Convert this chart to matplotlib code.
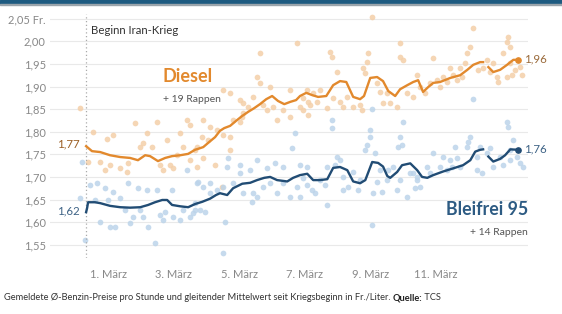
import numpy as np
import matplotlib
matplotlib.use("Agg")
import matplotlib.pyplot as plt
from matplotlib.patches import Rectangle

# days in March (1.0 = 1. März 00:00), prices in Fr./Liter
diesel_day = [0.33, 0.51, 0.76, 1.06, 1.37, 1.67, 1.91, 2.13, 2.28, 2.52, 2.74, 2.95,
              3.20, 3.44, 3.65, 3.90, 4.11, 4.26, 4.41, 4.54, 4.72, 4.90, 5.09, 5.27,
              5.45, 5.63, 5.82, 6.00, 6.18, 6.37, 6.55, 6.73, 6.85, 7.04, 7.22, 7.40,
              7.65, 7.86, 8.07, 8.26, 8.47, 8.68, 8.80, 8.99, 9.20, 9.38, 9.54, 9.75,
              9.90, 10.12, 10.30, 10.45, 10.60, 10.76, 10.91, 11.12, 11.43, 11.73,
              11.95, 12.13, 12.34, 12.43, 12.50, 12.59, 12.74, 12.95, 13.16, 13.35, 13.50]
diesel_avg = [1.768, 1.757, 1.755, 1.748, 1.744, 1.742, 1.737, 1.748, 1.746, 1.735, 1.742, 1.746,
              1.748, 1.751, 1.760, 1.766, 1.779, 1.788, 1.802, 1.808, 1.813, 1.824, 1.835, 1.844,
              1.852, 1.861, 1.872, 1.879, 1.868, 1.861, 1.866, 1.870, 1.879, 1.886, 1.881, 1.877,
              1.879, 1.903, 1.912, 1.910, 1.877, 1.872, 1.879, 1.919, 1.921, 1.912, 1.890, 1.879,
              1.894, 1.903, 1.910, 1.914, 1.888, 1.899, 1.908, 1.910, 1.919, 1.925,
              1.937, 1.948, 1.954, 1.954, np.nan, 1.943, 1.932, 1.937, 1.948, 1.959, 1.959]

benzin_day = [0.33, 0.36, 0.39, 0.60, 0.76, 1.06, 1.37, 1.67, 1.98, 2.22, 2.43, 2.65, 2.80,
              2.95, 3.20, 3.44, 3.65, 3.87, 4.11, 4.29, 4.41, 4.63, 4.81, 5.09, 5.33, 5.54,
              5.76, 5.94, 6.15, 6.46, 6.64, 6.85, 7.07, 7.25, 7.46, 7.68, 7.86, 8.07, 8.29,
              8.47, 8.68, 8.84, 9.05, 9.23, 9.38, 9.51, 9.60, 9.81, 9.96, 10.21, 10.42, 10.57,
              10.73, 10.91, 11.21, 11.52, 11.82, 12.04, 12.19, 12.34, 12.43, 12.50, 12.59,
              12.74, 12.95, 13.10, 13.26, 13.50]
benzin_avg = [1.622, 1.631, 1.644, 1.644, 1.642, 1.636, 1.633, 1.632, 1.633, 1.638, 1.644, 1.649, 1.649,
              1.638, 1.635, 1.633, 1.640, 1.645, 1.652, 1.660, 1.664, 1.660, 1.675, 1.685, 1.687, 1.693,
              1.698, 1.700, 1.693, 1.690, 1.698, 1.704, 1.707, 1.693, 1.693, 1.695, 1.720, 1.722, 1.715,
              1.690, 1.686, 1.693, 1.733, 1.731, 1.723, 1.702, 1.698, 1.711, 1.726, 1.730, 1.715, 1.700,
              1.698, 1.704, 1.712, 1.719, 1.726, 1.737, 1.756, 1.760, 1.761, np.nan, 1.745,
              1.734, 1.740, 1.748, 1.761, 1.760]

# hourly reports (dots)
diesel_pts_day = [0.15, 0.54, 1.15, 0.97, 0.39, 0.76, 0.91, 1.06, 1.37, 1.58, 1.61, 1.82, 1.98, 2.19,
                  2.07, 2.34, 2.49, 2.59, 2.68, 2.80, 2.90, 2.98, 3.10, 3.20, 3.29, 3.41, 3.50, 3.65,
                  3.71, 3.50, 5.63, 5.54, 5.63, 4.51, 4.72, 5.02, 5.12, 5.27, 5.42, 5.94, 6.55, 6.76,
                  5.72, 5.85, 6.03, 6.15, 6.34, 6.55, 6.85, 6.94, 7.10, 3.90, 4.11, 4.32, 4.51, 4.72,
                  4.81, 5.02, 5.12, 4.05, 3.87, 3.71, 4.72, 5.09, 3.90, 4.26, 4.48, 9.05, 7.77, 7.83,
                  7.98, 8.93, 8.90, 8.77, 8.84, 9.90, 9.90, 9.99, 7.07, 6.94, 7.16, 7.25, 7.46, 7.68,
                  7.10, 7.86, 8.07, 8.29, 8.16, 8.47, 8.68, 8.74, 9.29, 9.38, 9.60, 9.81, 10.12, 10.30,
                  9.20, 9.50, 7.37, 12.13, 12.04, 11.94, 13.20, 13.17, 13.26, 13.04, 10.91, 11.88,
                  11.73, 11.43, 11.21, 11.03, 11.52, 11.64, 11.79, 10.42, 10.51, 10.66, 10.82, 11.12,
                  11.34, 12.28, 12.43, 12.65, 12.86, 12.89, 13.17, 13.32, 13.41, 13.56, 13.62, 13.26,
                  12.74, 12.55]
diesel_pts_val = [1.853, 1.799, 1.793, 1.784, 1.733, 1.733, 1.715, 1.726, 1.720, 1.711, 1.731, 1.819, 1.766, 1.797,
                  1.775, 1.766, 1.822, 1.726, 1.715, 1.782, 1.726, 1.720, 1.749, 1.797, 1.766, 1.826, 1.815, 1.760,
                  1.722, 1.737, 1.974, 1.921, 1.908, 1.892, 1.886, 1.870, 1.864, 1.855, 1.877, 1.899, 1.892, 1.996,
                  1.859, 1.848, 1.855, 1.826, 1.848, 1.833, 1.855, 1.848, 1.866, 1.826, 1.810, 1.804, 1.793, 1.788,
                  1.826, 1.822, 1.841, 1.782, 1.788, 1.766, 1.760, 1.833, 1.742, 1.726, 1.678, 2.054, 1.976, 1.965,
                  1.932, 1.974, 1.954, 1.941, 1.930, 1.996, 1.965, 1.959, 1.892, 1.875, 1.859, 1.886, 1.892, 1.853,
                  1.837, 1.875, 1.866, 1.877, 1.855, 1.855, 1.859, 1.848, 1.888, 1.864, 1.864, 1.855, 1.886, 1.877,
                  1.908, 1.886, 1.866, 2.029, 1.987, 1.974, 2.010, 1.999, 1.987, 1.974, 1.963, 1.952,
                  1.941, 1.941, 1.921, 1.914, 1.925, 1.914, 1.921, 1.925, 1.899, 1.886, 1.908, 1.899,
                  1.910, 1.937, 1.941, 1.932, 1.921, 1.910, 1.921, 1.925, 1.937, 1.943, 1.925, 1.952,
                  1.952, 1.959]

benzin_pts_day = [0.21, 0.45, 0.66, 0.60, 0.76, 0.91, 1.00, 1.06, 1.21, 1.15, 1.37, 1.52, 1.61, 1.67,
                  1.76, 1.91, 1.98, 2.07, 2.19, 2.22, 2.43, 2.49, 2.59, 2.68, 2.74, 2.96, 2.98, 3.20,
                  3.29, 3.41, 3.50, 3.65, 3.74, 0.30, 0.15, 4.66, 4.63, 5.02, 5.33, 5.54, 5.85, 6.09,
                  6.34, 6.70, 6.61, 6.85, 7.07, 3.71, 3.90, 4.11, 4.32, 4.51, 4.81, 5.02, 5.12, 5.42,
                  5.54, 5.72, 5.94, 6.15, 6.34, 6.55, 6.76, 3.59, 3.80, 3.96, 3.65, 4.57, 4.51, 5.39,
                  4.11, 9.05, 7.83, 7.83, 8.99, 8.90, 8.84, 8.99, 9.14, 9.90, 9.96, 9.84, 9.99, 7.98,
                  7.92, 8.07, 7.68, 6.94, 7.07, 7.22, 7.31, 7.46, 7.62, 8.16, 8.16, 8.32, 8.62, 8.68,
                  9.20, 9.29, 9.50, 9.35, 9.08, 9.81, 9.90, 10.12, 10.21, 10.42, 7.68, 9.05, 8.47,
                  6.85, 9.53, 9.69, 12.13, 13.17, 13.20, 12.04, 11.97, 11.94, 11.58, 12.34, 10.91,
                  11.21, 11.43, 11.64, 11.73, 12.25, 12.55, 12.65, 12.95, 13.04, 13.26, 13.47, 13.56,
                  13.65, 12.25, 12.40, 12.74, 10.30, 10.42, 10.51, 10.36, 10.72, 10.82, 11.12, 11.34,
                  11.49, 13.26, 13.35]
benzin_pts_val = [1.733, 1.682, 1.687, 1.649, 1.600, 1.676, 1.649, 1.589, 1.589, 1.667, 1.653, 1.627, 1.687, 1.598,
                  1.611, 1.676, 1.627, 1.611, 1.671, 1.589, 1.554, 1.671, 1.616, 1.605, 1.622, 1.671, 1.611, 1.605,
                  1.627, 1.715, 1.611, 1.627, 1.689, 1.560, 1.653, 1.742, 1.722, 1.726, 1.715, 1.737, 1.720, 1.731,
                  1.722, 1.797, 1.764, 1.726, 1.722, 1.687, 1.678, 1.687, 1.671, 1.678, 1.687, 1.709, 1.664, 1.664,
                  1.656, 1.678, 1.687, 1.664, 1.687, 1.656, 1.678, 1.620, 1.627, 1.622, 1.642, 1.600, 1.532, 1.645,
                  1.664, 1.850, 1.826, 1.808, 1.804, 1.771, 1.760, 1.788, 1.753, 1.788, 1.771, 1.766, 1.822, 1.744,
                  1.726, 1.737, 1.722, 1.698, 1.682, 1.671, 1.664, 1.693, 1.682, 1.700, 1.671, 1.678, 1.671, 1.693,
                  1.689, 1.715, 1.693, 1.667, 1.664, 1.671, 1.693, 1.656, 1.709, 1.700, 1.638, 1.594, 1.711,
                  1.656, 1.715, 1.722, 1.872, 1.822, 1.810, 1.788, 1.777, 1.766, 1.766, 1.766, 1.753,
                  1.744, 1.737, 1.742, 1.722, 1.744, 1.753, 1.764, 1.744, 1.726, 1.737, 1.744, 1.731,
                  1.722, 1.715, 1.709, 1.722, 1.709, 1.693, 1.678, 1.676, 1.722, 1.709, 1.722, 1.715,
                  1.722, 1.760, 1.782]

war_start = 0.33
tick_days = [1, 3, 5, 7, 9, 11]
tick_labels = ["1. März", "3. März", "5. März", "7. März", "9. März", "11. März"]
y_ticks = [1.55, 1.60, 1.65, 1.70, 1.75, 1.80, 1.85, 1.90, 1.95, 2.00, 2.05]

ORANGE = "#e2892d"
ORANGE_LIGHT = "#f4cfa8"
BLUE = "#214c74"
BLUE_LIGHT = "#bcd4ea"
GREY = "#888888"

plt.rcParams["font.family"] = ["Lato", "DejaVu Sans"]

fig = plt.figure(figsize=(5.62, 3.14), dpi=100)
ax = fig.add_axes([0.089, 0.1774, 0.8506, 0.7774])

# top banner
fig.patches.append(Rectangle((0, 1 - 4 / 314), 1, 4 / 314, transform=fig.transFigure,
                             color="#1d5a80", zorder=5))
fig.patches.append(Rectangle((0, 1 - 5 / 314), 1, 1 / 314, transform=fig.transFigure,
                             color="#9aa4ab", zorder=5))

ax.scatter(diesel_pts_day, diesel_pts_val, s=17, color=ORANGE_LIGHT, alpha=0.85,
           linewidths=0, zorder=2)
ax.scatter(benzin_pts_day, benzin_pts_val, s=17, color=BLUE_LIGHT, alpha=0.85,
           linewidths=0, zorder=2)

ax.plot(diesel_day, diesel_avg, color=ORANGE, lw=1.7, zorder=4)
ax.plot(benzin_day, benzin_avg, color=BLUE, lw=1.7, zorder=4)
ax.plot(diesel_day[-1], diesel_avg[-1], "o", color=ORANGE, ms=3.8, zorder=5)
ax.plot(benzin_day[-1], benzin_avg[-1], "o", color=BLUE, ms=3.8, zorder=5)

ax.axvline(war_start, color="#aaaaaa", lw=0.9, ls=(0, (1, 2)), zorder=3)

ax.set_xlim(-0.77, 13.80)
ax.set_ylim(1.52, 2.06)
ax.set_yticks(y_ticks)
ylabels = [f"{v:.2f}".replace(".", ",") for v in y_ticks]
ylabels[-1] = ylabels[-1] + " Fr."
ax.set_yticklabels(ylabels)
ax.set_xticks(tick_days)
ax.set_xticklabels(tick_labels)
ax.tick_params(length=0, labelsize=8, labelcolor=GREY)
ax.tick_params(axis="y", pad=3)
ax.tick_params(axis="x", pad=8)
ax.grid(axis="y", color="#e9e9e9", lw=0.8)
ax.set_axisbelow(True)
for s in ax.spines.values():
    s.set_visible(False)

ax.text(war_start + 0.15, 2.025, "Beginn Iran-Krieg", fontsize=8.2, color="#333333",
        va="center", ha="left")
ax.text(3.42, 1.922, "Diesel", fontsize=13, fontweight="bold", color=ORANGE,
        ha="center", va="center")
ax.text(3.55, 1.872, "+ 19 Rappen", fontsize=7.5, color="#555555", ha="center", va="center")
ax.text(13.80, 1.628, "Bleifrei 95", fontsize=12.8, fontweight="bold", color="#2d5b83",
        ha="right", va="center")
ax.text(13.80, 1.577, "+ 14 Rappen", fontsize=7.5, color="#555555", ha="right", va="center")

ax.text(war_start - 0.2, diesel_avg[0] + 0.006, "1,77", fontsize=8.3, color="#9a5d22",
        ha="right", va="center")
ax.text(war_start - 0.2, benzin_avg[0] + 0.003, "1,62", fontsize=8.3, color="#3d6285",
        ha="right", va="center")
ax.text(diesel_day[-1] + 0.17, diesel_avg[-1] + 0.003, "1,96", fontsize=8.3, color="#9a6a3a",
        ha="left", va="center")
ax.text(benzin_day[-1] + 0.17, benzin_avg[-1] + 0.003, "1,76", fontsize=8.3, color="#3d6285",
        ha="left", va="center")

# caption with bold source
cap = fig.text(4 / 562, 1 - 298 / 314,
               "Gemeldete Ø-Benzin-Preise pro Stunde und gleitender Mittelwert seit Kriegsbeginn in Fr./Liter. ",
               fontsize=6.7, color="#333333", va="center", ha="left")
fig.canvas.draw()
bb = cap.get_window_extent().transformed(fig.transFigure.inverted())
q = fig.text(bb.x1, 1 - 298 / 314, "Quelle:", fontsize=6.7, fontweight="bold",
             color="#222222", va="center", ha="left")
fig.canvas.draw()
bb2 = q.get_window_extent().transformed(fig.transFigure.inverted())
fig.text(bb2.x1, 1 - 298 / 314, " TCS", fontsize=6.7, color="#333333", va="center", ha="left")

fig.savefig("out.png", dpi=100)
